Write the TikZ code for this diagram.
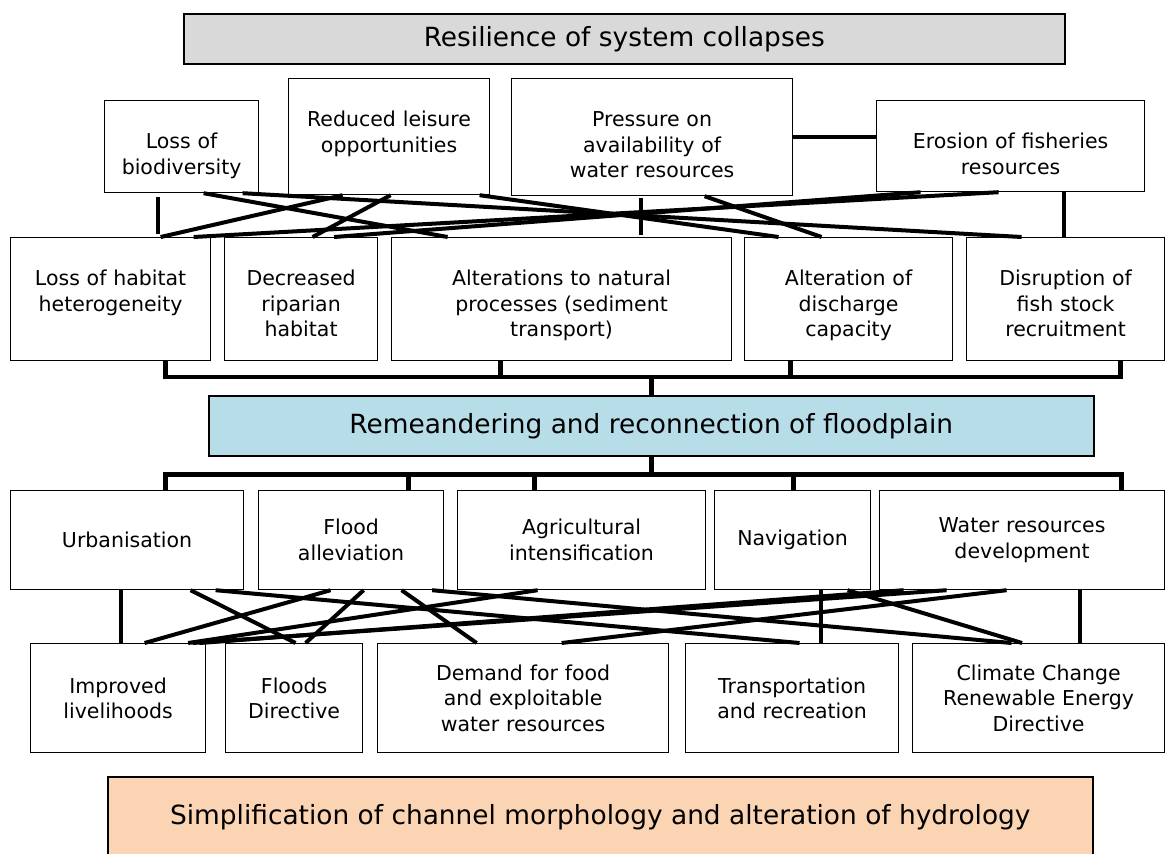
\documentclass[tikz,border=0pt]{standalone}
\usepackage{fontspec}
\setmainfont{DejaVu Sans}
\usetikzlibrary{calc}
\definecolor{capgray}{HTML}{D9D9D9}
\definecolor{floodblue}{HTML}{B7DDE8}
\definecolor{baseorange}{HTML}{FBD4B4}
\tikzset{
	cell/.style={draw, line width=1.2pt, fill=white, anchor=north west, inner xsep=4pt, inner ysep=0pt, align=center, font=\fontsize{20.5}{25.5}\selectfont},
	hang/.style={text height=48pt, text depth=#1},
	band/.style={draw, line width=1.5pt, anchor=north west, inner sep=0pt, font=\fontsize{26.4}{32}\selectfont},
	link/.style={line width=4pt},
	bar/.style={line width=4.5pt}
}

\begin{document}
\begin{tikzpicture}[x=1pt, y=-1pt]
		%%%%% START %%%%%
		\useasboundingbox (0,0) rectangle (1173,854);
		\clip (0,0) rectangle (1173,854);
		
		\node[band, fill=capgray, minimum width=881pt, minimum height=50pt] (G) at (183,13) {Resilience of system collapses};
		
		% consequences
		\node[cell, hang=44pt, text width=146pt] (B1) at (104,100) {Loss of\\biodiversity};
		\node[cell, hang=68pt, text width=193pt] (B2) at (288,78) {Reduced leisure\\opportunities};
		\node[cell, hang=69pt, text width=273pt] (B3) at (511,78) {Pressure on\\availability of\\water resources};
		\node[cell, hang=43pt, text width=260pt] (B4) at (876,100) {Erosion of fisheries\\resources};
		
		\node[cell, hang=75pt, text width=192pt] (C1) at (10,237) {Loss of habitat\\heterogeneity};
		\node[cell, hang=75pt, text width=145pt] (C2) at (224,237) {Decreased\\riparian\\habitat};
		\node[cell, hang=75pt, text width=332pt] (C3) at (391,237) {Alterations to natural\\processes (sediment\\transport)};
		\node[cell, hang=75pt, text width=200pt] (C4) at (744,237) {Alteration of\\discharge\\capacity};
		\node[cell, hang=75pt, text width=190pt] (C5) at (966,237) {Disruption of\\fish stock\\recruitment};
		
		\node[band, fill=floodblue, minimum width=885pt, minimum height=60pt] (R) at (208,395) {Remeandering and reconnection of floodplain};
		
		% pressures
		\node[cell, minimum height=99pt, text width=225pt] (D1) at (10,490) {Urbanisation};
		\node[cell, minimum height=99pt, text width=177pt] (D2) at (258,490) {Flood\\alleviation};
		\node[cell, minimum height=99pt, text width=240pt] (D3) at (457,490) {Agricultural\\intensification};
		\node[cell, minimum height=99pt, text width=148pt] (D4) at (714,490) {Navigation};
		\node[cell, minimum height=99pt, text width=277pt] (D5) at (879,490) {Water resources\\development};
		
		\node[cell, minimum height=109pt, text width=167pt] (E1) at (30,643) {Improved\\livelihoods};
		\node[cell, minimum height=109pt, text width=129pt] (E2) at (225,643) {Floods\\Directive};
		\node[cell, minimum height=109pt, text width=283pt] (E3) at (377,643) {Demand for food\\and exploitable\\water resources};
		\node[cell, minimum height=109pt, text width=205pt] (E4) at (685,643) {Transportation\\and recreation};
		\node[cell, minimum height=109pt, text width=244pt] (E5) at (912,643) {Climate Change\\Renewable Energy\\Directive};
		
		\node[band, fill=baseorange, minimum width=985pt, minimum height=80pt] (S) at (107,776) {Simplification of channel morphology and alteration of hydrology};
		
		% upper web
		\draw[link] ([xshift=22pt]B1.south) -- ([xshift=-114pt]C3.north);
		\draw[link] ([xshift=61pt]B1.south) -- ([xshift=-44pt]C5.north);
		\draw[link] ([xshift=-46.5pt]B2.south) -- ([xshift=50pt]C1.north);
		\draw[link] ([xshift=1.5pt]B2.south) -- ([xshift=11.5pt]C2.north);
		\draw[link] ([xshift=83pt]C1.north) -- ([xshift=-12pt]B4.south);
		\draw[link] ([xshift=33pt]C2.north) -- ([xshift=-90pt]B4.south);
		\draw[link] ([xshift=90.5pt]B2.south) -- ([xshift=-70pt]C4.north);
		\draw[link] ([xshift=52.5pt]B3.south) -- ([xshift=-27pt]C4.north);
		\draw[link, shorten <=4pt, shorten >=3pt] ([xshift=-24pt]B1.south) -- ([xshift=-24pt]B1.south |- C1.north);
		\draw[link, shorten <=2pt, shorten >=2pt] ([xshift=-11.5pt]B3.south) -- ([xshift=-11.5pt]B3.south |- C3.north);
		\draw[link] ([xshift=53pt]B4.south) -- ([xshift=53pt]B4.south |- C5.north);
		\draw[link] (B3.east) -- (B3.east -| B4.west);
		
		% brackets
		\coordinate (hubup) at ([yshift=18pt]R.north);
		\coordinate (hubdown) at ([yshift=-18pt]R.south);
		\draw[bar] ([xshift=55pt]C1.south) -- ([xshift=55pt]C1.south |- hubup) -- ([xshift=55pt]C5.south |- hubup) -- ([xshift=55pt]C5.south);
		\draw[bar] ([xshift=-61pt]C3.south) -- ([xshift=-61pt]C3.south |- hubup);
		\draw[bar] ([xshift=-58pt]C4.south) -- ([xshift=-58pt]C4.south |- hubup);
		\draw[bar] (hubup) -- (R.north);
		\draw[bar] (R.south) -- (hubdown);
		\draw[bar] ([xshift=38.5pt]D1.north) -- ([xshift=38.5pt]D1.north |- hubdown) -- ([xshift=99.5pt]D5.north |- hubdown) -- ([xshift=99.5pt]D5.north);
		\foreach \n/\dx in {D2/57.5pt, D3/-47pt, D4/1pt}
			\draw[bar] ([xshift=\dx]\n.north) -- ([xshift=\dx]\n.north |- hubdown);
		
		% lower web
		\draw[link] ([xshift=63.5pt]D1.south) -- ([xshift=1.5pt]E2.north);
		\draw[link] ([xshift=88.5pt]D1.south) -- ([xshift=7.5pt]E4.north);
		\draw[link] ([xshift=-20.5pt]D2.south) -- ([xshift=26.5pt]E1.north);
		\draw[link] ([xshift=12.5pt]D2.south) -- ([xshift=11.5pt]E2.north);
		\draw[link] ([xshift=50.5pt]D2.south) -- ([xshift=-46.5pt]E3.north);
		\draw[link] ([xshift=81pt]D2.south) -- ([xshift=-27pt]E5.north);
		\draw[link] ([xshift=-44pt]D3.south) -- ([xshift=70pt]E1.north);
		\draw[link] ([xshift=81.5pt]E1.north) -- ([xshift=-118.5pt]D5.south);
		\draw[link] ([xshift=74.5pt]E1.north) -- ([xshift=-75.5pt]D5.south);
		\draw[link] ([xshift=38.5pt]E3.north) -- ([xshift=-15.5pt]D5.south);
		\draw[link] ([xshift=55pt]D4.south) -- ([xshift=-16.5pt]E5.north);
		\draw[link] ([xshift=-6.5pt]D1.south) -- ([xshift=-6.5pt]D1.south |- E1.north);
		\draw[link] ([xshift=28pt]D4.south) -- ([xshift=28pt]D4.south |- E4.north);
		\draw[link] ([xshift=57.5pt]D5.south) -- ([xshift=57.5pt]D5.south |- E5.north);
		
		%%%%% END %%%%%
\end{tikzpicture}
\end{document}
